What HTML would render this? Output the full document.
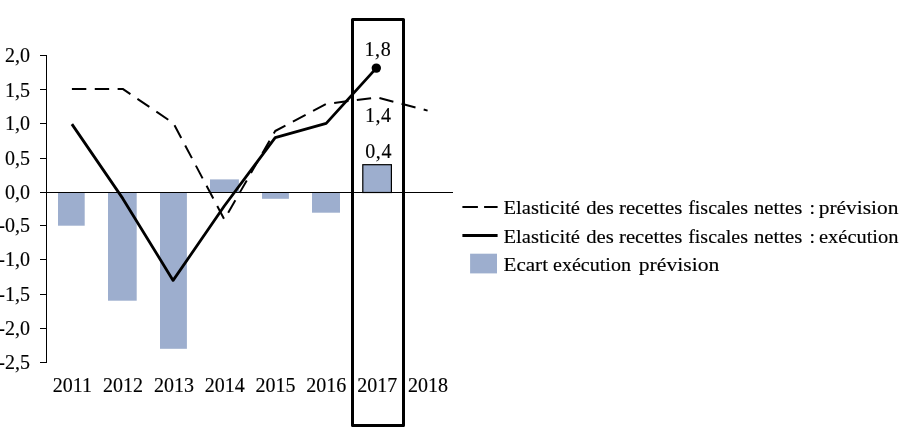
<!DOCTYPE html>
<html lang="fr"><head><meta charset="utf-8"><title>Elasticité des recettes fiscales nettes</title>
<style>html,body{margin:0;padding:0;background:#fff}svg{display:block;font-family:"Liberation Serif",serif;font-size:19.5px;fill:#000}text{stroke:#000;stroke-width:0.15px}.n{font-size:20px}</style></head>
<body>
<svg width="908" height="434" viewBox="0 0 908 434">
<rect x="0" y="0" width="908" height="434" fill="#fff"/>
<rect x="58.00" y="192.00" width="26.70" height="33.70" fill="#9daece"/>
<rect x="108.00" y="192.00" width="28.70" height="108.70" fill="#9daece"/>
<rect x="160.00" y="192.00" width="26.90" height="156.80" fill="#9daece"/>
<rect x="210.00" y="179.40" width="28.90" height="12.60" fill="#9daece"/>
<rect x="262.00" y="192.00" width="26.90" height="6.80" fill="#9daece"/>
<rect x="312.00" y="192.00" width="28.00" height="20.70" fill="#9daece"/>
<rect x="362.8" y="164.7" width="28.6" height="27.8" fill="#9daece" stroke="#000" stroke-width="1.2"/>
<g stroke="#000" stroke-width="1" fill="none">
<line x1="46.5" y1="55" x2="46.5" y2="363"/>
<line x1="40" y1="55.50" x2="46.5" y2="55.50"/>
<line x1="40" y1="89.50" x2="46.5" y2="89.50"/>
<line x1="40" y1="123.50" x2="46.5" y2="123.50"/>
<line x1="40" y1="158.50" x2="46.5" y2="158.50"/>
<line x1="40" y1="192.50" x2="46.5" y2="192.50"/>
<line x1="40" y1="225.50" x2="46.5" y2="225.50"/>
<line x1="40" y1="259.50" x2="46.5" y2="259.50"/>
<line x1="40" y1="294.50" x2="46.5" y2="294.50"/>
<line x1="40" y1="328.50" x2="46.5" y2="328.50"/>
<line x1="40" y1="362.50" x2="46.5" y2="362.50"/>
<line x1="46" y1="192.5" x2="453" y2="192.5"/>
</g>
<text class="n" x="29.90" y="62.40" text-anchor="end">2,0</text>
<text class="n" x="29.90" y="96.70" text-anchor="end">1,5</text>
<text class="n" x="29.90" y="129.90" text-anchor="end">1,0</text>
<text class="n" x="29.90" y="164.70" text-anchor="end">0,5</text>
<text class="n" x="29.90" y="198.60" text-anchor="end">0,0</text>
<text class="n" x="29.90" y="232.40" text-anchor="end">-0,5</text>
<text class="n" x="29.90" y="265.70" text-anchor="end">-1,0</text>
<text class="n" x="29.90" y="301.40" text-anchor="end">-1,5</text>
<text class="n" x="29.90" y="335.30" text-anchor="end">-2,0</text>
<text class="n" x="29.90" y="369.40" text-anchor="end">-2,5</text>
<text class="n" x="72.31" y="391.80" text-anchor="middle">2011</text>
<text class="n" x="123.12" y="391.80" text-anchor="middle">2012</text>
<text class="n" x="173.93" y="391.80" text-anchor="middle">2013</text>
<text class="n" x="224.74" y="391.80" text-anchor="middle">2014</text>
<text class="n" x="275.54" y="391.80" text-anchor="middle">2015</text>
<text class="n" x="326.36" y="391.80" text-anchor="middle">2016</text>
<text class="n" x="377.16" y="391.80" text-anchor="middle">2017</text>
<text class="n" x="427.98" y="391.80" text-anchor="middle">2018</text>
<polyline points="71.90,88.90 122.70,88.90 173.50,123.30 224.30,219.40 275.20,131.00 326.00,104.00 376.80,97.40 427.60,110.60" fill="none" stroke="#000" stroke-width="2" stroke-dasharray="14.4 8.46" stroke-linejoin="round"/>
<polyline points="71.90,124.10 122.70,198.40 173.10,280.40 224.30,206.00 275.20,137.60 326.20,123.40 376.30,68.10" fill="none" stroke="#000" stroke-width="2.8" stroke-linejoin="round" stroke-linecap="butt"/>
<circle cx="376.3" cy="68.1" r="4.7" fill="#000"/>
<rect x="352.5" y="19.5" width="51" height="406" fill="none" stroke="#000" stroke-width="3" stroke-linejoin="round"/>
<text class="n" x="364.40" y="55.60" letter-spacing="0.7">1,8</text>
<text class="n" x="365.00" y="121.90" letter-spacing="0.5">1,4</text>
<text class="n" x="365.20" y="157.70" letter-spacing="0.6">0,4</text>
<line x1="462.4" y1="207" x2="497.6" y2="207" stroke="#000" stroke-width="2" stroke-dasharray="15.5 6.2"/>
<line x1="462.4" y1="235.5" x2="497.6" y2="235.5" stroke="#000" stroke-width="3"/>
<rect x="470.1" y="253.7" width="26.9" height="19.7" fill="#9daece"/>
<text x="503.50" y="213.80" textLength="76.50" lengthAdjust="spacingAndGlyphs">Elasticité</text>
<text x="586.20" y="213.80" textLength="27.60" lengthAdjust="spacingAndGlyphs">des</text>
<text x="619.00" y="213.80" textLength="63.30" lengthAdjust="spacingAndGlyphs">recettes</text>
<text x="688.20" y="213.80" textLength="59.80" lengthAdjust="spacingAndGlyphs">fiscales</text>
<text x="754.00" y="213.80" textLength="48.20" lengthAdjust="spacingAndGlyphs">nettes</text>
<text x="809.50" y="213.80" textLength="5.50" lengthAdjust="spacingAndGlyphs">:</text>
<text x="818.70" y="213.80" textLength="79.80" lengthAdjust="spacingAndGlyphs">prévision</text>
<text x="503.50" y="242.50" textLength="76.50" lengthAdjust="spacingAndGlyphs">Elasticité</text>
<text x="586.20" y="242.50" textLength="27.60" lengthAdjust="spacingAndGlyphs">des</text>
<text x="619.00" y="242.50" textLength="63.30" lengthAdjust="spacingAndGlyphs">recettes</text>
<text x="688.20" y="242.50" textLength="59.80" lengthAdjust="spacingAndGlyphs">fiscales</text>
<text x="754.00" y="242.50" textLength="48.20" lengthAdjust="spacingAndGlyphs">nettes</text>
<text x="809.50" y="242.50" textLength="5.50" lengthAdjust="spacingAndGlyphs">:</text>
<text x="819.00" y="242.50" textLength="79.50" lengthAdjust="spacingAndGlyphs">exécution</text>
<text x="503.50" y="271.30" textLength="44.50" lengthAdjust="spacingAndGlyphs">Ecart</text>
<text x="553.00" y="271.30" textLength="78.00" lengthAdjust="spacingAndGlyphs">exécution</text>
<text x="638.80" y="271.30" textLength="80.50" lengthAdjust="spacingAndGlyphs">prévision</text>
</svg>
</body></html>
